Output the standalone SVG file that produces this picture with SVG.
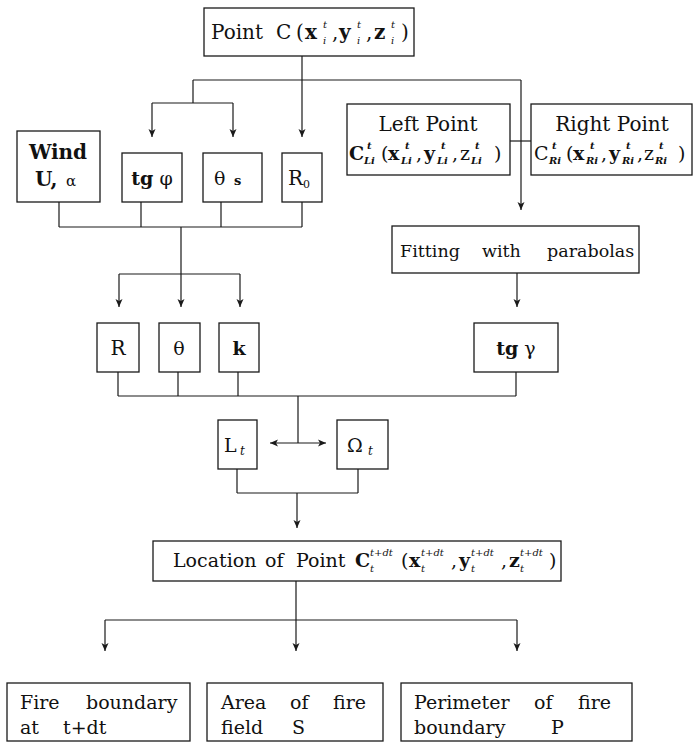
<svg xmlns="http://www.w3.org/2000/svg" width="698" height="745" viewBox="0 0 698 745">
<style>
.box{fill:#fff;stroke:#1a1a1a;stroke-width:1.3}
.ln{fill:none;stroke:#1a1a1a;stroke-width:1.2}
.ar{marker-end:url(#ah)}
text{font-family:"DejaVu Serif","Liberation Serif",serif;fill:#111;font-size:19px}
.b{font-weight:bold}
.s{font-size:10px;font-style:italic}
.sb{font-size:10px;font-style:italic;font-weight:bold}
.m{text-anchor:middle}
</style>
<defs>
<marker id="ah" markerWidth="10" markerHeight="10" refX="8" refY="4" orient="auto-start-reverse" markerUnits="userSpaceOnUse">
<path d="M0,0.5 L8,4 L0,7.5 L2,4 Z" fill="#1a1a1a"/>
</marker>
</defs>
<rect width="698" height="745" fill="#fff"/>
<g id="connectors">
<path class="ln ar" d="M302,56 V137"/>
<path class="ln" d="M193,80 H521"/>
<path class="ln ar" d="M521,80 V210"/>
<path class="ln" d="M193,80 V103 M152,103 H233"/>
<path class="ln ar" d="M152,103 V137"/>
<path class="ln ar" d="M233,103 V137"/>
<path class="ln" d="M510,141 H531"/>
<path class="ln" d="M59,202 V227 M141,202 V227 M221,202 V227 M302,202 V227 M59,227 H302 M181,227 V274 M119,274 H240"/>
<path class="ln ar" d="M119,274 V307"/>
<path class="ln ar" d="M181,274 V307"/>
<path class="ln ar" d="M240,274 V307"/>
<path class="ln ar" d="M517,273 V307"/>
<path class="ln" d="M118,372 V396 M178,372 V396 M238,372 V396 M516,372 V396 M118,396 H516 M298,396 V443"/>
<path class="ln" d="M270,443 H326" marker-start="url(#ah)" marker-end="url(#ah)"/>
<path class="ln" d="M237,469 V493 M358,469 V493 M237,493 H358"/>
<path class="ln ar" d="M297,493 V528"/>
<path class="ln" d="M296,581 V620 M105,620 H517"/>
<path class="ln ar" d="M105,620 V651"/>
<path class="ln ar" d="M296,620 V651"/>
<path class="ln ar" d="M517,620 V651"/>
</g>
<g id="pointC">
<rect class="box" x="204" y="8" width="210" height="48"/>
<text y="39" style="font-size:20px"><tspan x="211">Point</tspan><tspan x="276">C</tspan><tspan x="296">(</tspan><tspan x="305" class="b">x</tspan><tspan x="332">,</tspan><tspan x="339" class="b">y</tspan><tspan x="366">,</tspan><tspan x="374" class="b">z</tspan><tspan x="401">)</tspan></text>
<text class="s"><tspan x="323" y="28">t</tspan><tspan x="323" y="44">i</tspan><tspan x="357" y="28">t</tspan><tspan x="357" y="44">i</tspan><tspan x="391" y="28">t</tspan><tspan x="391" y="44">i</tspan></text>
</g>
<g id="wind">
<rect class="box" x="17" y="131" width="83" height="71"/>
<text class="b m" x="58" y="159" style="font-size:20px">Wind</text>
<text y="186"><tspan x="35" class="b" style="font-size:20px">U,</tspan><tspan x="66" style="font-size:15px">α</tspan></text>
</g>
<g id="tgphi">
<rect class="box" x="122" y="153" width="60" height="49"/>
<text class="m" x="152" y="185"><tspan class="b">tg</tspan><tspan> φ</tspan></text>
</g>
<g id="theta-s">
<rect class="box" x="203" y="153" width="59" height="49"/>
<text y="185"><tspan x="214">θ</tspan><tspan x="234" y="185" style="font-size:13px;font-weight:bold">s</tspan></text>
</g>
<g id="R0">
<rect class="box" x="282" y="153" width="40" height="49"/>
<text y="185"><tspan x="288" style="font-size:20px">R</tspan><tspan x="303" y="188" style="font-size:11px">0</tspan></text>
</g>
<g id="leftPoint">
<rect class="box" x="347" y="104" width="163" height="71"/>
<text class="m" x="428" y="131" style="font-size:20px">Left  Point</text>
<text y="160"><tspan x="349" class="b">C</tspan><tspan x="381">(</tspan><tspan x="388" class="b">x</tspan><tspan x="416">,</tspan><tspan x="424" class="b">y</tspan><tspan x="452">,</tspan><tspan x="460">z</tspan><tspan x="494">)</tspan></text>
<text class="sb"><tspan x="364" y="164">Li</tspan><tspan x="367" y="149">t</tspan><tspan x="401" y="164">Li</tspan><tspan x="405" y="149">t</tspan><tspan x="437" y="164">Li</tspan><tspan x="441" y="149">t</tspan><tspan x="471" y="164">Li</tspan><tspan x="475" y="149">t</tspan></text>
</g>
<g id="rightPoint">
<rect class="box" x="531" y="104" width="161" height="71"/>
<text class="m" x="612" y="131" style="font-size:20px">Right  Point</text>
<text y="160"><tspan x="534">C</tspan><tspan x="566">(</tspan><tspan x="573" class="b">x</tspan><tspan x="601">,</tspan><tspan x="609" class="b">y</tspan><tspan x="637">,</tspan><tspan x="644">z</tspan><tspan x="678">)</tspan></text>
<text class="sb"><tspan x="549" y="164">Ri</tspan><tspan x="552" y="149">t</tspan><tspan x="586" y="164">Ri</tspan><tspan x="590" y="149">t</tspan><tspan x="622" y="164">Ri</tspan><tspan x="626" y="149">t</tspan><tspan x="655" y="164">Ri</tspan><tspan x="659" y="149">t</tspan></text>
</g>
<g id="fitting">
<rect class="box" x="392" y="226" width="247" height="47"/>
<text y="257" style="font-size:17.5px"><tspan x="400">Fitting</tspan><tspan x="482">with</tspan><tspan x="547">parabolas</tspan></text>
</g>
<g id="R">
<rect class="box" x="97" y="323" width="42" height="49"/>
<text class="m" x="118" y="355" style="font-size:20px">R</text>
</g>
<g id="theta">
<rect class="box" x="159" y="323" width="41" height="49"/>
<text class="m" x="179" y="355">θ</text>
</g>
<g id="k">
<rect class="box" x="219" y="323" width="40" height="49"/>
<text class="m b" x="239" y="355">k</text>
</g>
<g id="tggamma">
<rect class="box" x="474" y="323" width="84" height="49"/>
<text class="m" x="516" y="355"><tspan class="b">tg</tspan><tspan> γ</tspan></text>
</g>
<g id="Lt">
<rect class="box" x="218" y="420" width="39" height="49"/>
<text y="452"><tspan x="224">L</tspan><tspan x="240" y="455" class="s" style="font-size:12px">t</tspan></text>
</g>
<g id="Omegat">
<rect class="box" x="337" y="420" width="51" height="49"/>
<text y="452"><tspan x="347">Ω</tspan><tspan x="368" y="455" class="s" style="font-size:12px">t</tspan></text>
</g>
<g id="location">
<rect class="box" x="153" y="541" width="408" height="40"/>
<text y="567"><tspan x="173">Location</tspan><tspan x="265">of</tspan><tspan x="296">Point</tspan><tspan x="355" class="b">C</tspan><tspan x="401">(</tspan><tspan x="409" class="b">x</tspan><tspan x="451">,</tspan><tspan x="459" class="b">y</tspan><tspan x="501">,</tspan><tspan x="509" class="b">z</tspan><tspan x="549">)</tspan></text>
<text class="s"><tspan x="370" y="556">t+dt</tspan><tspan x="370" y="572">t</tspan><tspan x="421" y="556">t+dt</tspan><tspan x="421" y="572">t</tspan><tspan x="471" y="556">t+dt</tspan><tspan x="471" y="572">t</tspan><tspan x="520" y="556">t+dt</tspan><tspan x="520" y="572">t</tspan></text>
</g>
<g id="fireBoundary">
<rect class="box" x="7" y="683" width="183" height="58"/>
<text y="709"><tspan x="20">Fire</tspan><tspan x="86">boundary</tspan></text>
<text y="734"><tspan x="20">at</tspan><tspan x="63">t+dt</tspan></text>
</g>
<g id="area">
<rect class="box" x="207" y="683" width="176" height="58"/>
<text y="709"><tspan x="221">Area</tspan><tspan x="290">of</tspan><tspan x="333">fire</tspan></text>
<text y="734"><tspan x="221">field</tspan><tspan x="292">S</tspan></text>
</g>
<g id="perimeter">
<rect class="box" x="401" y="683" width="231" height="58"/>
<text y="709"><tspan x="414">Perimeter</tspan><tspan x="534">of</tspan><tspan x="578">fire</tspan></text>
<text y="734"><tspan x="414">boundary</tspan><tspan x="551">P</tspan></text>
</g>
</svg>
